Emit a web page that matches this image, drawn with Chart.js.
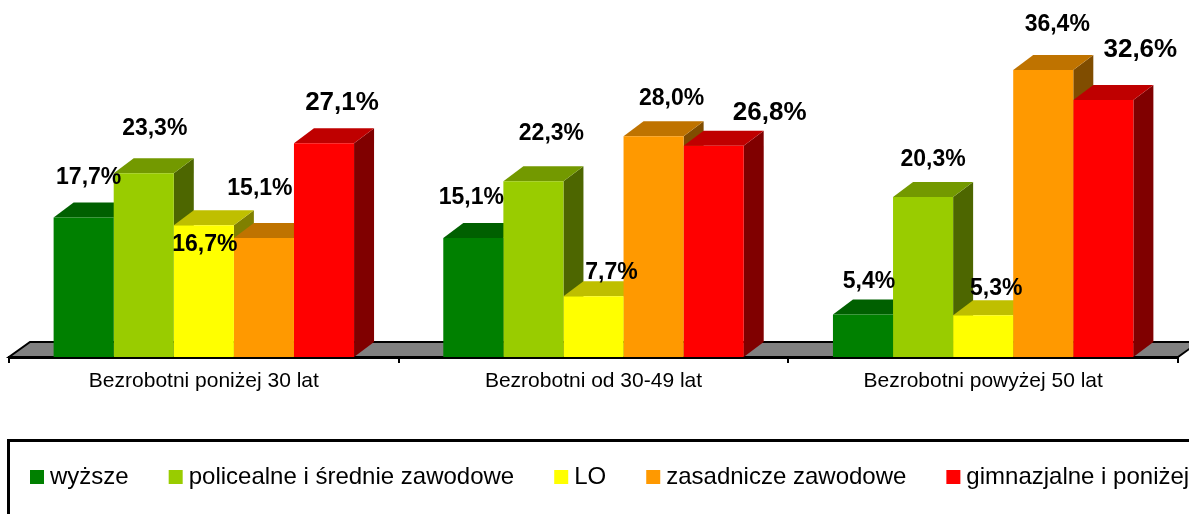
<!DOCTYPE html>
<html>
<head>
<meta charset="utf-8">
<script src="https://cdn.jsdelivr.net/npm/chart.js@4"></script>
<style>
  html, body { margin: 0; padding: 0; background: #fff; }
  #wrap { width: 1189px; height: 514px; overflow: hidden; }
</style>
</head>
<body>
<div id="wrap"><canvas id="chart" width="1189" height="514"></canvas></div>
<script>
// ===== DATA =====
const categories = ['Bezrobotni poniżej 30 lat', 'Bezrobotni od 30-49 lat', 'Bezrobotni powyżej 50 lat'];
const seriesNames = ['wyższe', 'policealne i średnie zawodowe', 'LO', 'zasadnicze zawodowe', 'gimnazjalne i poniżej'];
const wyzsze      = [17.7, 15.1, 5.4];
const policealne  = [23.3, 22.3, 20.3];
const lo          = [16.7, 7.7, 5.3];
const zasadnicze  = [15.1, 28.0, 36.4];
const gimnazjalne = [27.1, 26.8, 32.6];
const seriesValues = [wyzsze, policealne, lo, zasadnicze, gimnazjalne];

// ===== STYLE =====
const seriesColors = ['#008000', '#99CC00', '#FFFF00', '#FF9900', '#FF0000'];
const FONT = '"Liberation Sans", Arial, sans-serif';
const DX = 20, DY = 15;   // 3D depth of the bars

// label nudges [dx, dy] from the top centre of each bar's front face
const labelShift = [
    [[5, -40], [-2, -40], [6, -33]],
    [[11, -45], [18, -47], [10, -37]],
    [[1, 19], [18, -24], [13, -27]],
    [[-4, -49], [18, -38], [14, -45]],
    [[18, -40], [56, -33], [37, -50]]
];

function shade(hex, f) {
    const n = parseInt(hex.slice(1), 16);
    const r = Math.round(((n >> 16) & 255) * f);
    const g = Math.round(((n >> 8) & 255) * f);
    const b = Math.round((n & 255) * f);
    return `rgb(${r},${g},${b})`;
}

// ===== 3D FACES, LABELS, LEGEND =====
const bars3d = {
    id: 'bars3d',
    beforeDatasetsDraw(chart) {
        const ctx = chart.ctx;
        const { left, right, bottom } = chart.chartArea;

        // floor
        ctx.save();
        ctx.beginPath();
        ctx.moveTo(left, bottom);
        ctx.lineTo(right, bottom);
        ctx.lineTo(right + DX + 1, bottom - DY);
        ctx.lineTo(left + DX + 1, bottom - DY);
        ctx.closePath();
        ctx.fillStyle = '#808080';
        ctx.fill();
        ctx.lineWidth = 2;
        ctx.strokeStyle = '#000';
        ctx.stroke();

        // sides and tops, left to right so nearer faces overlap
        categories.forEach((c, j) => {
            seriesValues.forEach((vals, i) => {
                const bar = chart.getDatasetMeta(i).data[j];
                const x0 = bar.x - bar.width / 2, x1 = bar.x + bar.width / 2;
                const yt = bar.y, yb = bar.base;

                ctx.fillStyle = shade(seriesColors[i], 0.5);
                ctx.beginPath();
                ctx.moveTo(x1, yt);
                ctx.lineTo(x1 + DX, yt - DY);
                ctx.lineTo(x1 + DX, yb - DY);
                ctx.lineTo(x1, yb);
                ctx.closePath();
                ctx.fill();

                ctx.fillStyle = shade(seriesColors[i], 0.75);
                ctx.beginPath();
                ctx.moveTo(x0, yt);
                ctx.lineTo(x1, yt);
                ctx.lineTo(x1 + DX, yt - DY);
                ctx.lineTo(x0 + DX, yt - DY);
                ctx.closePath();
                ctx.fill();
            });
        });
        ctx.restore();
    },
    afterDatasetsDraw(chart) {
        const ctx = chart.ctx;
        ctx.save();
        ctx.fillStyle = '#000';
        ctx.textAlign = 'center';
        ctx.textBaseline = 'middle';
        seriesValues.forEach((vals, i) => {
            ctx.font = (i === 4 ? 'bold 26px ' : 'bold 23px ') + FONT;
            vals.forEach((v, j) => {
                const bar = chart.getDatasetMeta(i).data[j];
                const [dx, dy] = labelShift[i][j];
                ctx.fillText(v.toFixed(1).replace('.', ',') + '%', bar.x + dx, bar.y + dy);
            });
        });
        ctx.restore();
    },
    afterDraw(chart) {
        const ctx = chart.ctx;
        ctx.save();
        ctx.lineWidth = 3;
        ctx.strokeStyle = '#000';
        ctx.strokeRect(8.5, 440.5, 1200, 120);

        ctx.font = '24px ' + FONT;
        ctx.textBaseline = 'middle';
        ctx.textAlign = 'left';
        let x = 30;
        seriesNames.forEach((name, i) => {
            ctx.fillStyle = seriesColors[i];
            ctx.fillRect(x, 470, 14, 14);
            ctx.fillStyle = '#000';
            ctx.fillText(name, x + 20, 477);
            x += 20 + ctx.measureText(name).width + 40;
        });
        ctx.restore();
    }
};

// ===== CHART =====
new Chart(document.getElementById('chart'), {
    type: 'bar',
    data: {
        labels: categories,
        datasets: seriesNames.map((name, i) => ({
            label: name,
            data: seriesValues[i],
            backgroundColor: seriesColors[i],
            borderWidth: 0,
            barPercentage: 1,
            categoryPercentage: 0.771
        }))
    },
    options: {
        responsive: false,
        animation: false,
        layout: { padding: { left: 9, right: 11, top: 10, bottom: 0 } },
        plugins: {
            legend: { display: false },
            tooltip: { enabled: false }
        },
        scales: {
            x: {
                grid: { offset: true, drawOnChartArea: false, color: '#000', lineWidth: 2, tickLength: 6 },
                border: { color: '#000', width: 3 },
                ticks: { color: '#000', font: { family: FONT, size: 21 }, padding: 6, maxRotation: 0 },
                afterFit: (scale) => { scale.height = 157; }
            },
            y: { display: false, min: 0, max: 44 }
        }
    },
    plugins: [bars3d]
});
</script>
</body>
</html>
